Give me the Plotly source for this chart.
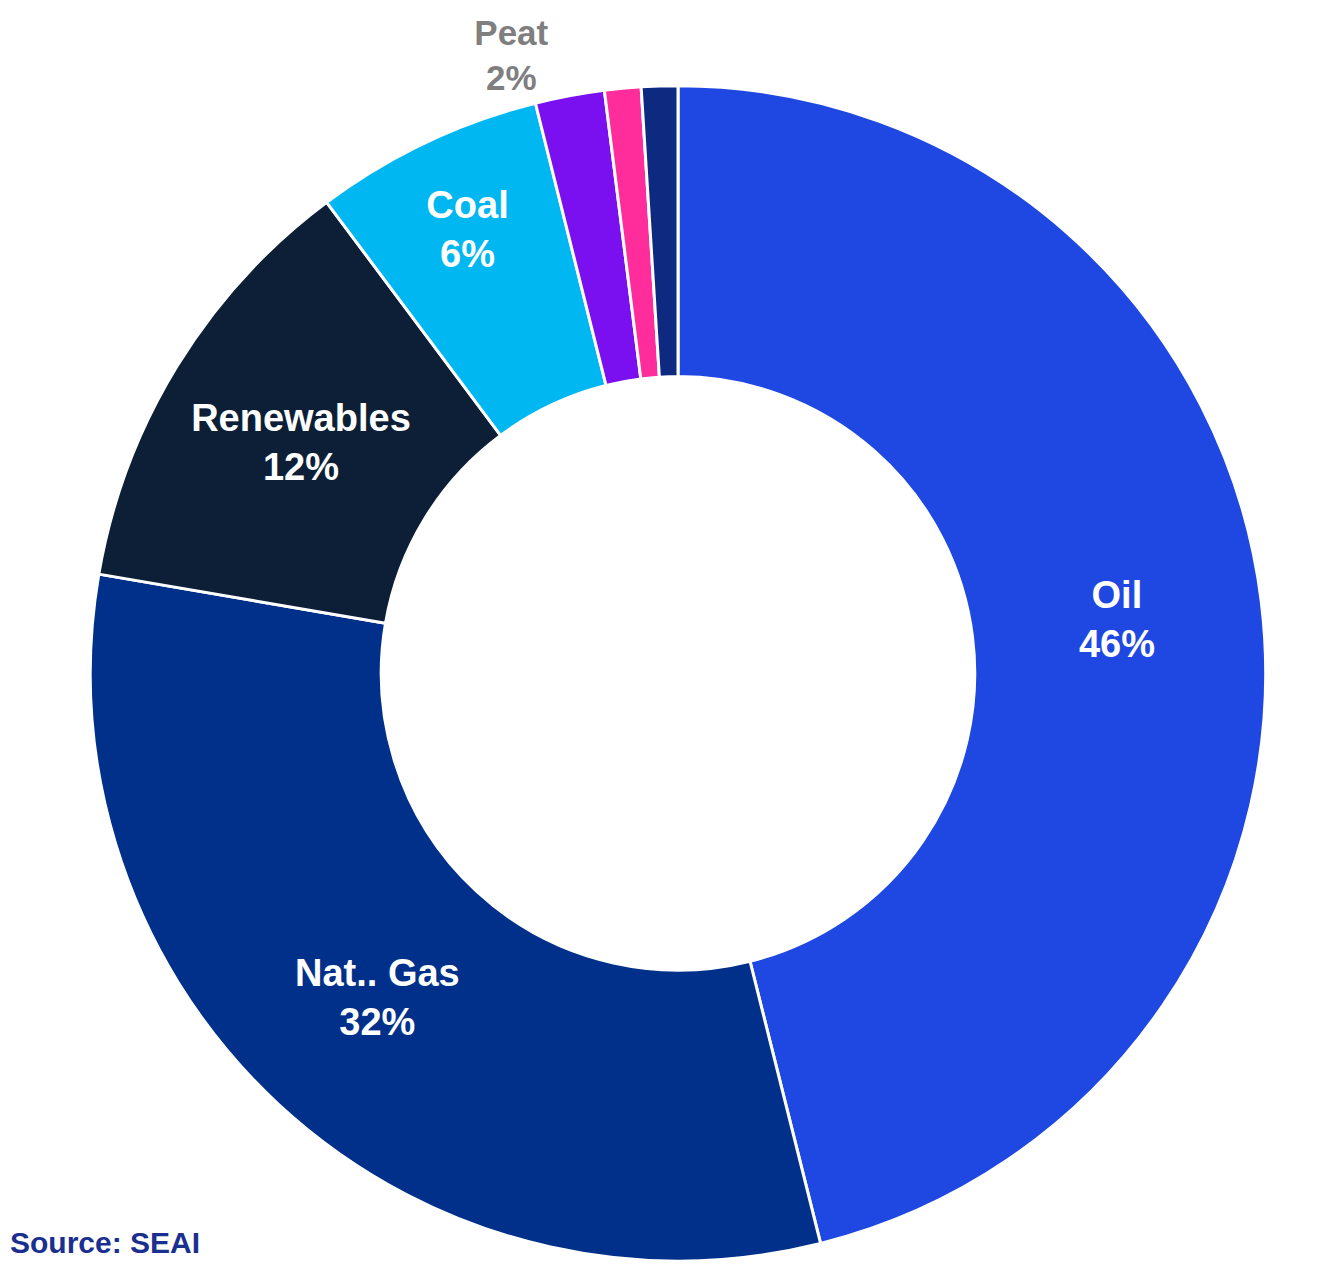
import plotly.graph_objects as go

labels = ["Oil", "Nat.. Gas", "Renewables", "Coal", "Peat", "Non-Renewable Waste", "Electricity Imports"]
values = [46.1, 31.6, 12.1, 6.3, 1.9, 1.0, 1.0]
pct_text = ["46%", "32%", "12%", "6%", "2%", "", ""]
colors = ["#1F48E2", "#00308A", "#0C1F36", "#00B7F1", "#7A10F0", "#FF2D9B", "#0D2A80"]
text_pos = ["inside", "inside", "inside", "inside", "outside", "none", "none"]
source_text = "Source: SEAI"

W, H = 1301, 1258
FONT = "Liberation Sans, Arial, sans-serif"

fig = go.Figure(go.Pie(
    labels=labels,
    values=values,
    text=pct_text,
    texttemplate=["%{label}<br>%{text}"] * 5 + ["", ""],
    textposition=text_pos,
    hole=0.505,
    sort=False,
    direction="clockwise",
    rotation=0,
    marker=dict(colors=colors, line=dict(color="white", width=3)),
    insidetextfont=dict(family=FONT, size=38, color="white", weight="bold"),
    outsidetextfont=dict(family=FONT, size=35, color="#7F7F7F", weight="bold"),
    insidetextorientation="horizontal",
    showlegend=False,
    domain=dict(x=[0.060, 0.970], y=[0.0, 0.941]),
))

fig.add_annotation(
    text=source_text, xref="paper", yref="paper", x=0.0, y=0.0,
    xanchor="left", yanchor="bottom", showarrow=False,
    font=dict(family=FONT, size=30, color="#1A2F8F", weight="bold"),
)

fig.update_layout(
    width=W, height=H,
    margin=dict(l=0, r=0, t=0, b=0),
    paper_bgcolor="white", plot_bgcolor="white",
)

fig.write_html("out.html")
